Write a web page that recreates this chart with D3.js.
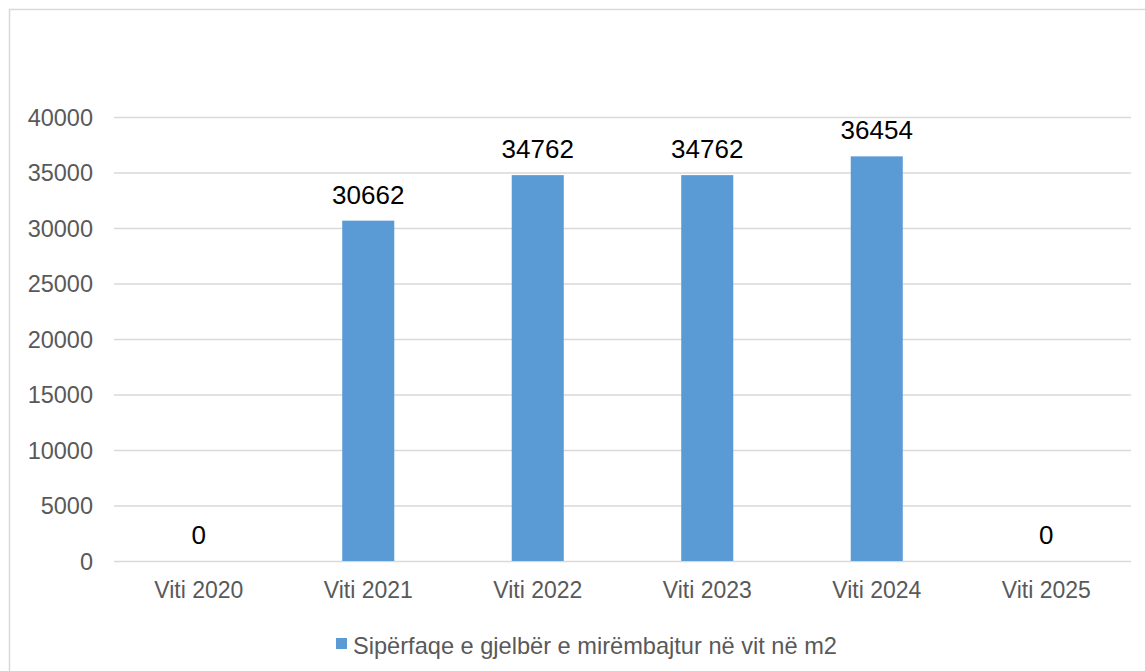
<!DOCTYPE html>
<html>
<head>
<meta charset="utf-8">
<script src="https://cdn.jsdelivr.net/npm/d3@7"></script>
<style>
  html, body { margin: 0; padding: 0; background: #fff; }
  svg { display: block; }
  text { font-family: "Liberation Sans", Arial, sans-serif; }
</style>
</head>
<body>
<svg id="chart" width="1145" height="671"></svg>
<script>
const categories = ["Viti 2020", "Viti 2021", "Viti 2022", "Viti 2023", "Viti 2024", "Viti 2025"];
const values = [0, 30662, 34762, 34762, 36454, 0];
const yTicks = [0, 5000, 10000, 15000, 20000, 25000, 30000, 35000, 40000];
const seriesName = "Sipërfaqe e gjelbër e mirëmbajtur në vit në m2";

(function () {
const svg = d3.select("#chart");
const W = 1145, H = 671;
const pLeft = 114, pRight = 1131, pTop = 117, pBottom = 561;

svg.append("rect").attr("x", 9.5).attr("y", 9.5).attr("width", W + 20).attr("height", H + 20)
  .attr("fill", "#fff").attr("stroke", "#D9D9D9").attr("stroke-width", 1.5);

const x = d3.scaleBand().domain(categories).range([pLeft, pRight]).paddingInner(0.693).paddingOuter(0.3465);
const y = d3.scaleLinear().domain([0, 40000]).range([pBottom, pTop]);

// gridlines + y labels
const yAxis = d3.axisLeft(y).tickValues(yTicks).tickSize(-(pRight - pLeft)).tickPadding(21).tickFormat(d3.format("d"));
const gy = svg.append("g").attr("transform", `translate(${pLeft},0)`).call(yAxis);
gy.select(".domain").remove();
gy.selectAll(".tick line").attr("stroke", "#D9D9D9").attr("stroke-width", 1.5);
gy.selectAll(".tick text").attr("fill", "#595959").style("font-size", "23.5px")
  .attr("dy", "0.35em");

// x axis labels
const xAxis = d3.axisBottom(x).tickSize(0).tickPadding(0);
const gx = svg.append("g").attr("transform", `translate(0,${pBottom})`).call(xAxis);
gx.select(".domain").remove();
gx.selectAll(".tick text").attr("fill", "#595959").style("font-size", "23px")
  .attr("dy", null).attr("y", 37);

// bars
svg.append("g").selectAll("rect").data(values).join("rect")
  .attr("x", (d, i) => x(categories[i]))
  .attr("width", x.bandwidth())
  .attr("y", d => y(d))
  .attr("height", d => y(0) - y(d))
  .attr("fill", "#5B9BD5");

// data labels
svg.append("g").selectAll("text").data(values).join("text")
  .attr("x", (d, i) => x(categories[i]) + x.bandwidth() / 2)
  .attr("y", d => y(d) - 17)
  .attr("text-anchor", "middle")
  .attr("fill", "#000")
  .style("font-size", "26px")
  .text(d => d);

// legend
const lg = svg.append("g");
lg.append("rect").attr("x", 336).attr("y", 638).attr("width", 11).attr("height", 11).attr("fill", "#5B9BD5");
lg.append("text").attr("x", 353).attr("y", 654).attr("fill", "#595959").style("font-size", "23.6px").text(seriesName);
})();
</script>
</body>
</html>
